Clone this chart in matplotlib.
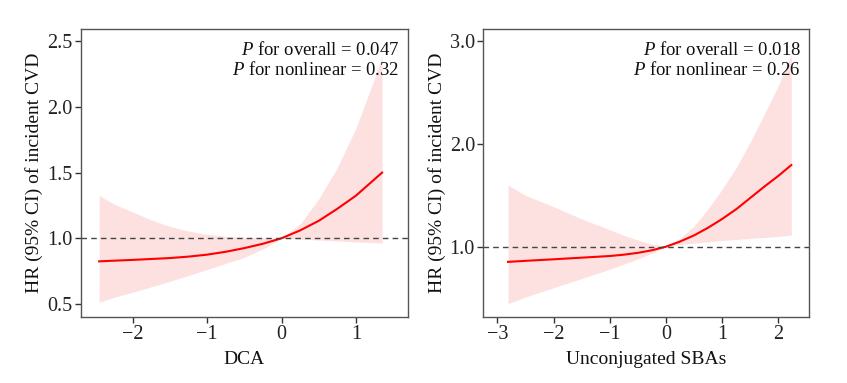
"""
Restricted cubic spline plots: HR of incident CVD by bile acid level.
"""

import matplotlib
matplotlib.use("Agg")
import matplotlib.pyplot as plt

plt.rcParams["font.family"] = "Liberation Serif"
plt.rcParams["mathtext.fontset"] = "custom"
plt.rcParams["mathtext.rm"] = "Liberation Serif"
plt.rcParams["mathtext.it"] = "Liberation Serif:italic"

# DCA panel
dca_x = [-2.45, -2.25, -2.0, -1.75, -1.5, -1.25, -1.0, -0.75, -0.5, -0.25,
         0.0, 0.25, 0.5, 0.75, 1.0, 1.25, 1.35]
dca_hr = [0.824, 0.829, 0.835, 0.842, 0.849, 0.86, 0.875, 0.897, 0.925, 0.958,
          1.0, 1.06, 1.133, 1.225, 1.325, 1.45, 1.50]
dca_lo = [0.513, 0.55, 0.588, 0.63, 0.672, 0.716, 0.762, 0.808, 0.855, 0.918,
          1.0, 0.993, 0.986, 0.979, 0.972, 0.966, 0.963]
dca_hi = [1.326, 1.26, 1.20, 1.14, 1.09, 1.055, 1.03, 1.015, 1.007, 1.003,
          1.0, 1.11, 1.30, 1.54, 1.84, 2.22, 2.39]

# Unconjugated SBAs panel
sba_x = [-2.81, -2.5, -2.0, -1.5, -1.0, -0.75, -0.5, -0.25, 0.0, 0.25, 0.5,
         0.75, 1.0, 1.25, 1.5, 1.75, 2.0, 2.23]
sba_hr = [0.852, 0.862, 0.877, 0.893, 0.909, 0.922, 0.94, 0.965, 1.0, 1.05, 1.11,
          1.185, 1.27, 1.365, 1.475, 1.585, 1.69, 1.795]
sba_lo = [0.445, 0.51, 0.60, 0.69, 0.78, 0.83, 0.88, 0.935, 1.0, 1.02, 1.035,
          1.047, 1.06, 1.07, 1.08, 1.09, 1.10, 1.114]
sba_hi = [1.60, 1.50, 1.39, 1.27, 1.165, 1.11, 1.065, 1.025, 1.0, 1.08, 1.20,
          1.37, 1.56, 1.77, 2.02, 2.29, 2.57, 2.87]

panels = [
    dict(x=dca_x, hr=dca_hr, lo=dca_lo, hi=dca_hi, xlabel="DCA",
         p1="0.047", p2="0.32", xlim=(-2.694, 1.698), ylim=(0.40, 2.594),
         xticks=[-2, -1, 0, 1], yticks=[0.5, 1.0, 1.5, 2.0, 2.5],
         rect=[0.0956, 0.1723, 0.3861, 0.752]),
    dict(x=sba_x, hr=sba_hr, lo=sba_lo, hi=sba_hi, xlabel="Unconjugated SBAs",
         p1="0.018", p2="0.26", xlim=(-3.25, 2.55), ylim=(0.315, 3.12),
         xticks=[-3, -2, -1, 0, 1, 2], yticks=[1.0, 2.0, 3.0],
         rect=[0.5706, 0.1723, 0.3849, 0.752]),
]

fig = plt.figure(figsize=(8.47, 3.83), dpi=100)

for p in panels:
    ax = fig.add_axes(p["rect"])
    ax.fill_between(p["x"], p["lo"], p["hi"], color="#fde1e1", linewidth=0)
    ax.plot(p["x"], p["hr"], color="#ff0000", linewidth=1.5)
    ax.axhline(1.0, color="#444444", linestyle=(0, (4, 3)), linewidth=1)

    ax.set_xlim(*p["xlim"])
    ax.set_ylim(*p["ylim"])
    ax.set_xticks(p["xticks"])
    ax.set_yticks(p["yticks"])
    ax.set_yticklabels(["%.1f" % v for v in p["yticks"]])
    ax.tick_params(direction="out", length=4, width=1, colors="#333333",
                   labelsize=14.5, labelcolor="#222222", pad=2)
    for s in ax.spines.values():
        s.set_color("#555555")
        s.set_linewidth(1)

    ax.set_xlabel(p["xlabel"], fontsize=14, color="#111111", labelpad=5)
    ax.set_ylabel("HR (95% CI) of incident CVD", fontsize=14, color="#111111", labelpad=3)

    ax.text(0.975, 0.958, "$P$ for overall = " + p["p1"] + "\n$P$ for nonlinear = " + p["p2"],
            transform=ax.transAxes, ha="right", va="top", fontsize=13.5,
            linespacing=1.12, color="#111111")

fig.savefig("out.png", dpi=100)
